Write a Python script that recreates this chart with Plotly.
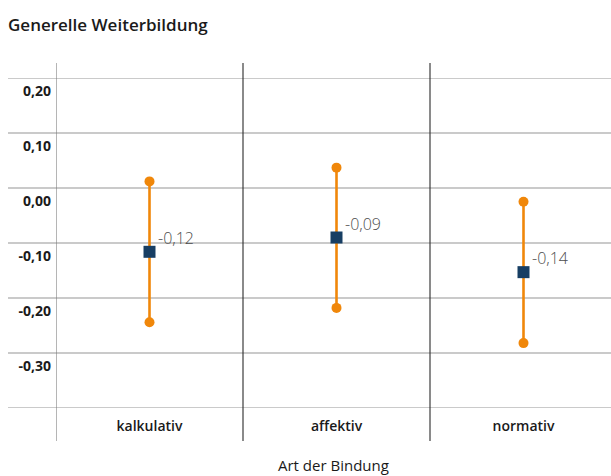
import plotly.graph_objects as go

# ---- data ----
categories = ["kalkulativ", "affektiv", "normativ"]
means = [-0.116, -0.090, -0.153]
lower = [-0.244, -0.218, -0.282]
upper = [0.012, 0.037, -0.025]
mean_labels = ["-0,12", "-0,09", "-0,14"]
y_ticks = [0.20, 0.10, 0.00, -0.10, -0.20, -0.30, -0.40]
y_tick_labels = ["0,20", "0,10", "0,00", "-0,10", "-0,20", "-0,30", ""]

FONT = "Open Sans"
ORANGE = "#f0870a"
NAVY = "#173e63"

W, H = 611, 476
ML, MR, MT, MB = 56, 0, 78, 68
plot_w = W - ML - MR
plot_h = H - MT - MB

fig = go.Figure()

# whiskers (low-high) with round end points
for c, lo, hi in zip(categories, lower, upper):
    fig.add_trace(go.Scatter(
        x=[c, c], y=[lo, hi], mode="lines+markers",
        line=dict(color=ORANGE, width=2.6),
        marker=dict(color=ORANGE, size=10, symbol="circle"),
        hoverinfo="skip", showlegend=False, cliponaxis=False))

# means
fig.add_trace(go.Scatter(
    x=categories, y=means, mode="markers",
    marker=dict(color=NAVY, size=12, symbol="square", line=dict(width=0)),
    showlegend=False, cliponaxis=False))

# value labels
for c, m, t in zip(categories, means, mean_labels):
    fig.add_annotation(x=c, y=m, text=t, showarrow=False,
                       xanchor="left", yanchor="middle", xshift=6, yshift=14,
                       font=dict(family=FONT, size=16, color="#4d4d4d", weight=300))

shapes = []
# horizontal grid lines extending into the label column
x_left = -(ML - 8) / plot_w
for v in y_ticks:
    shapes.append(dict(type="line", xref="paper", yref="y", x0=x_left, x1=1,
                       y0=v, y1=v, line=dict(color="#b8b8b8", width=1.3), layer="below"))
# vertical separators
top = 1 + 15 / plot_h
bot = -33 / plot_h
for i in range(len(categories)):
    col = "#777777" if i == 0 else "#2a2a2a"
    shapes.append(dict(type="line", xref="x", yref="paper", x0=i - 0.5, x1=i - 0.5,
                       y0=bot, y1=top, line=dict(color=col, width=1.1), layer="below"))

fig.add_annotation(text="Art der Bindung", xref="paper", yref="paper",
                   x=0.5, y=-(465 - 408) / plot_h, xanchor="center", yanchor="middle",
                   showarrow=False, font=dict(family=FONT, size=15, color="#1a1a1a"))

fig.update_layout(
    width=W, height=H,
    margin=dict(l=ML, r=MR, t=MT, b=MB, autoexpand=False),
    paper_bgcolor="white", plot_bgcolor="white",
    shapes=shapes,
    title=dict(text="Generelle Weiterbildung", x=8 / W, xref="container", xanchor="left",
               y=1 - 25 / H, yref="container", yanchor="middle",
               font=dict(family=FONT, size=17, color="#1a1a1a", weight=600)),
    xaxis=dict(type="category", categoryorder="array", categoryarray=categories,
               range=[-0.5, -0.5 + plot_w / 187.0], showgrid=False, zeroline=False,
               showline=False, ticks="", ticklabelstandoff=8,
               tickfont=dict(family=FONT, size=14, color="#1a1a1a", weight=600)),
    yaxis=dict(range=[-0.4, 0.2], tickvals=y_ticks, ticktext=y_tick_labels,
               showgrid=False, zeroline=False, showline=False, ticks="",
               ticklabelshift=13, ticklabelstandoff=4,
               tickfont=dict(family=FONT, size=14, color="#1a1a1a", weight=700)),
    font=dict(family=FONT),
)

fig.write_html("out.html", config={"displayModeBar": False},
               post_script="document.body.style.margin='0';document.body.style.overflow='hidden';")
